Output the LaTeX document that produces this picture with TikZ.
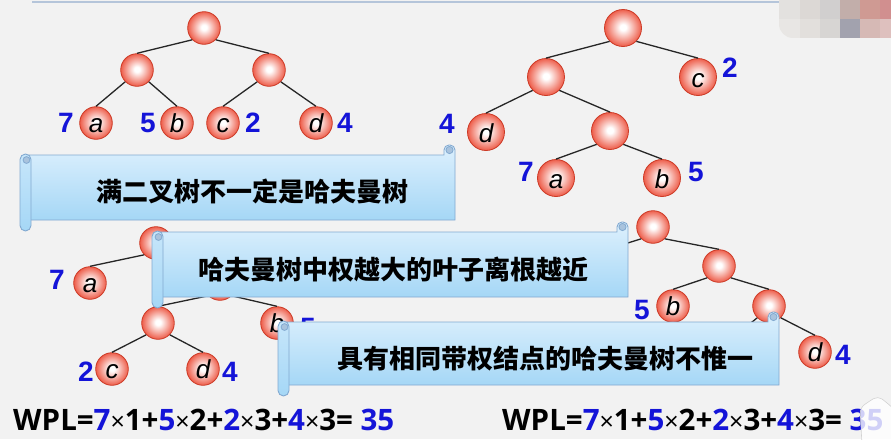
\documentclass[tikz,border=0pt]{standalone}
\usepackage{fontspec}
\setmainfont{Liberation Sans}
\newfontfamily\cjkfont{Noto Sans CJK SC}
\newfontfamily\wplfont{Open Sans}
\definecolor{bg}{HTML}{F2F2F2}
\definecolor{ballred}{HTML}{EB4630}
\definecolor{ballline}{HTML}{CC3A26}
\definecolor{wblue}{HTML}{1414D8}
\definecolor{scrolltop}{HTML}{DDF0FD}
\definecolor{scrollbot}{HTML}{A5D7F6}
\definecolor{scrollline}{HTML}{82A9D0}
\definecolor{curlfill}{HTML}{A9C3DD}
\definecolor{topline}{HTML}{B5C5DA}
\definecolor{mzA}{HTML}{E3E1DF}
\definecolor{mzB}{HTML}{DCD8D5}
\definecolor{mzC}{HTML}{D1CFCF}
\definecolor{mzD}{HTML}{C2AEAA}
\definecolor{mzE}{HTML}{CF9A93}
\definecolor{mzF}{HTML}{D18F8F}
\definecolor{mzG}{HTML}{E8E6E4}
\definecolor{mzH}{HTML}{E2DFDC}
\definecolor{mzI}{HTML}{D7D5D3}
\definecolor{mzJ}{HTML}{A2A2AE}
\definecolor{mzK}{HTML}{D6B9B5}
\definecolor{mzL}{HTML}{DEC0BE}
\pgfdeclareradialshading{ballsh}{\pgfpoint{0bp}{1bp}}{color(0bp)=(white); color(4bp)=(white); color(28bp)=(ballred); color(50bp)=(ballred)}
\newcommand{\mulsign}{{\mdseries\fontsize{25}{25}\selectfont ×}}
\newcommand{\scrollbox}[4]{%
  \draw[scrollline, line width=0.9pt, top color=scrolltop, bottom color=scrollbot]
    ({#1+8},#4) -- ({#1+8},#2) -- ({#3-11},#2) [rounded corners=5] -- ({#3-11},{#2-10}) -- (#3,{#2-10}) [sharp corners] -- (#3,#4) -- cycle;
  \draw[scrollline, line width=0.8pt, fill=curlfill] ({#3-5.5},{#2-5}) circle (3.6);
  \draw[scrollline, line width=0.9pt, top color=scrolltop!60!scrollbot, bottom color=scrollbot, rounded corners=5.5]
    (#1,{#2-1}) rectangle ({#1+11},{#4+11});
  \draw[scrollline, line width=0.8pt, fill=curlfill] ({#1+6.5},{#2+5}) circle (3.4);
}
\begin{document}
\begin{tikzpicture}[x=1pt, y=-1pt,
  ball/.style={circle, draw=ballline, line width=0.8pt, inner sep=0pt, minimum size=32.6pt,
    shading=ballsh, text height=19pt, text depth=0pt, font=\fontsize{26}{26}\selectfont\itshape},
  bigball/.style={ball, minimum size=37pt, text height=20pt},
  wt/.style={text=wblue, font=\fontsize{28}{28}\selectfont\bfseries, inner sep=0pt},
  edge/.style={draw=black!85, line width=1.3pt},
  cjk/.style={inner sep=0pt, font=\cjkfont\bfseries\fontsize{26}{26}\selectfont},
  wpl/.style={inner sep=0pt, anchor=base west, font=\wplfont\bfseries\fontsize{29.5}{29.5}\selectfont}]
\useasboundingbox (0,0) rectangle (891,439);
\fill[bg] (0,0) rectangle (891,439);
\draw[topline, line width=1.2pt] (32,2) -- (792,2);
% mosaic
\begin{scope}
  \clip[rounded corners=14] (779,-20) rectangle (905,38);
  \fill[mzA] (779,0) rectangle (800,19);
  \fill[mzB] (800,0) rectangle (820,19);
  \fill[mzC] (820,0) rectangle (840,19);
  \fill[mzD] (840,0) rectangle (860,19);
  \fill[mzE] (860,0) rectangle (880,19);
  \fill[mzF] (880,0) rectangle (905,19);
  \fill[mzG] (779,19) rectangle (800,38);
  \fill[mzH] (800,19) rectangle (820,38);
  \fill[mzI] (820,19) rectangle (840,38);
  \fill[mzJ] (840,19) rectangle (860,38);
  \fill[mzK] (860,19) rectangle (880,38);
  \fill[mzL] (880,19) rectangle (905,38);
\end{scope}
% ---- tree 1
\node[ball] (t1r) at (204,28) {};
\node[ball] (t1l) at (137,70) {};
\node[ball] (t1m) at (269,70) {};
\node[ball] (t1a) at (96,123) {a};
\node[ball] (t1b) at (177,123) {b};
\node[ball] (t1c) at (223,123) {c};
\node[ball] (t1d) at (316,123) {d};
\node[wt] (w1a) at (66,123) {7};
\node[wt] (w1b) at (148,123) {5};
\node[wt] (w1c) at (253,123) {2};
\node[wt] (w1d) at (345,123) {4};
\draw[edge] (t1r.south west) -- (t1l.north);
\draw[edge] (t1r.south east) -- (t1m.north);
\draw[edge] (t1l.south west) -- (t1a.north);
\draw[edge] (t1l.south east) -- (t1b.north);
\draw[edge] (t1m.south west) -- (t1c.north);
\draw[edge] (t1m.south east) -- (t1d.north);
% ---- tree 2
\node[bigball] (t2r) at (623,28) {};
\node[bigball] (t2l) at (546,77) {};
\node[bigball] (t2c) at (698,77) {c};
\node[bigball] (t2d) at (486,132) {d};
\node[bigball] (t2m) at (610,131) {};
\node[bigball] (t2a) at (556,178) {a};
\node[bigball] (t2b) at (662,178) {b};
\node[wt] (w2c) at (730,68) {2};
\node[wt] (w2d) at (447,124) {4};
\node[wt] (w2a) at (526,172) {7};
\node[wt] (w2b) at (696,172) {5};
\draw[edge] (t2r.south west) -- (t2l.north);
\draw[edge] (t2r.south east) -- (t2c.north);
\draw[edge] (t2l.south west) -- (t2d.north);
\draw[edge] (t2l.south east) -- (t2m.north);
\draw[edge] (t2m.south west) -- (t2a.north);
\draw[edge] (t2m.south east) -- (t2b.north);
% ---- tree 3
\node[ball] (t3r) at (156,243) {};
\node[ball] (t3a) at (90,283) {a};
\node[ball] (t3x) at (220,284) {};
\node[ball] (t3y) at (158,323) {};
\node[ball] (t3b) at (277,323) {b};
\node[ball] (t3c) at (112,369) {c};
\node[ball] (t3d) at (203,369) {d};
\node[wt] (w3a) at (57,280) {7};
\node[wt] (w3b) at (308,328) {5};
\node[wt] (w3c) at (86,372) {2};
\node[wt] (w3d) at (230,372) {4};
\draw[edge] (t3r.south west) -- (t3a.north);
\draw[edge] (t3r.south east) -- (t3x.north);
\draw[edge] (t3x.south west) -- (t3y.north);
\draw[edge] (t3x.south east) -- (t3b.north);
\draw[edge] (t3y.south west) -- (t3c.north);
\draw[edge] (t3y.south east) -- (t3d.north);
% ---- tree 4
\node[ball] (t4r) at (653,227) {};
\node[ball] (t4p) at (719,266) {};
\node[ball] (t4b) at (673,306) {b};
\node[ball] (t4q) at (769,306) {};
\node[ball] (t4d) at (815,352) {d};
\coordinate (t4a) at (586,256);
\coordinate (t4c) at (735,336);
\node[wt] (w4b) at (642,310) {5};
\node[wt] (w4d) at (843,355) {4};
\draw[edge] (t4r.south west) -- (t4a);
\draw[edge] (t4r.south east) -- (t4p.north);
\draw[edge] (t4p.south west) -- (t4b.north);
\draw[edge] (t4p.south east) -- (t4q.north);
\draw[edge] (t4q.south west) -- (t4c);
\draw[edge] (t4q.south east) -- (t4d.north);
% ---- scroll banners
\scrollbox{20}{155}{455}{220}
\node[cjk] (s1) at (252,191) {满二叉树不一定是哈夫曼树};
\scrollbox{152}{232}{628}{297}
\node[cjk] (s2) at (393,270) {哈夫曼树中权越大的叶子离根越近};
\scrollbox{278}{322}{779}{385}
\node[cjk] (s3) at (545,359) {具有相同带权结点的哈夫曼树不惟一};
% ---- WPL lines
\node[wpl] (wpl1) at (13,430) {WPL=\textcolor{wblue}{7}\mulsign1+\textcolor{wblue}{5}\mulsign2+\textcolor{wblue}{2}\mulsign3+\textcolor{wblue}{4}\mulsign3= \textcolor{wblue}{35}};
\node[wpl] (wpl2) at (502,430) {WPL=\textcolor{wblue}{7}\mulsign1+\textcolor{wblue}{5}\mulsign2+\textcolor{wblue}{2}\mulsign3+\textcolor{wblue}{4}\mulsign3= \textcolor{wblue}{35}};
\draw[gray!35, line width=0.6pt, fill=white, fill opacity=0.8, rounded corners=5]
  (862,445) -- (860,408) -- (868,402) -- (878,396) -- (886,402) -- (895,410) -- (895,445);
\end{tikzpicture}
\end{document}
